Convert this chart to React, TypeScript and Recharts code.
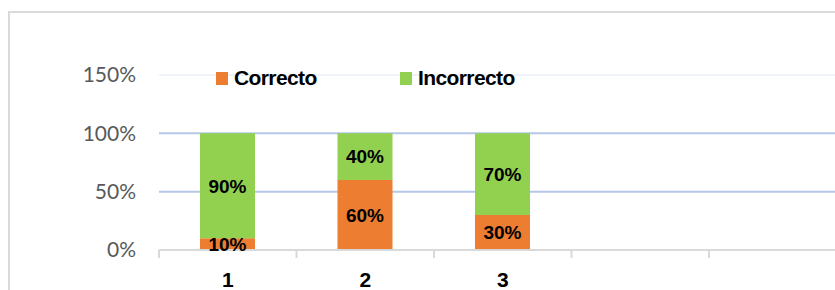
import React from "react";
import {
  BarChart,
  Bar,
  XAxis,
  YAxis,
  CartesianGrid,
  ReferenceLine,
  LabelList,
  Legend,
} from "recharts";

const categories = ["1", "2", "3", "", ""];
const correcto = [0.1, 0.6, 0.3, null, null];
const incorrecto = [0.9, 0.4, 0.7, null, null];
const yTicks = [0, 0.5, 1, 1.5];

const SERIES = [
  { key: "correcto", name: "Correcto", color: "#ED7D31" },
  { key: "incorrecto", name: "Incorrecto", color: "#92D050" },
];

const data = categories.map((name, i) => ({
  name,
  correcto: correcto[i],
  incorrecto: incorrecto[i],
}));

const pct = (v: any) =>
  v === null || v === undefined ? "" : `${Math.round(Number(v) * 100)}%`;

const XTick = (props: any) => {
  const { x, y, payload, index, visibleTicksCount } = props;
  const half = payload && payload.offset ? payload.offset : 68.75;
  const isLast = index === visibleTicksCount - 1;
  return (
    <g>
      <line x1={x - half} x2={x - half} y1={y} y2={y + 8} stroke="#d9d9d9" strokeWidth={2} />
      {isLast && (
        <line x1={x + half} x2={x + half} y1={y} y2={y + 8} stroke="#d9d9d9" strokeWidth={2} />
      )}
      <text
        x={x}
        y={y + 37}
        textAnchor="middle"
        fontFamily="'Liberation Sans', Arial, sans-serif"
        fontWeight="bold"
        fontSize={21}
        fill="#000"
      >
        {payload.value}
      </text>
    </g>
  );
};

const renderLegend = () => (
  <div
    style={{
      display: "flex",
      fontFamily: "'Liberation Sans', Arial, sans-serif",
      fontWeight: "bold",
      fontSize: 21,
      color: "#000",
      letterSpacing: -0.6,
    }}
  >
    {SERIES.map((s) => (
      <div
        key={s.key}
        style={{ display: "flex", alignItems: "center", width: 184 }}
      >
        <span
          style={{
            display: "inline-block",
            width: 12,
            height: 13,
            background: s.color,
            marginRight: 6,
          }}
        />
        <span>{s.name}</span>
      </div>
    ))}
  </div>
);

export default function App() {
  return (
    <div
      style={{
        position: "absolute",
        left: 0,
        top: 0,
        width: 835,
        height: 290,
        overflow: "hidden",
        background: "#fff",
      }}
    >
      <div
        style={{
          position: "absolute",
          left: 8,
          top: 11,
          width: 900,
          height: 400,
          border: "2px solid #d9d9d9",
          boxSizing: "border-box",
        }}
      />
      <div style={{ position: "absolute", left: 0, top: 0 }}>
        <BarChart
          width={850}
          height={290}
          data={data}
          margin={{ top: 75, right: 3.5, bottom: 0, left: 0 }}
        >
          <CartesianGrid
            vertical={false}
            horizontalValues={[0.5, 1]}
            stroke="#b4c7e7"
            strokeWidth={2}
          />
          <ReferenceLine y={1.5} stroke="#eef2f9" strokeWidth={2} />
          <XAxis
            dataKey="name"
            type="category"
            height={40}
            axisLine={{ stroke: "#d9d9d9", strokeWidth: 2 }}
            tickLine={false}
            tickSize={0}
            tickMargin={0}
            interval={0}
            tick={<XTick />}
          />
          <YAxis
            width={159}
            domain={[0, 1.5]}
            ticks={yTicks}
            tickFormatter={pct}
            axisLine={false}
            tickLine={false}
            tickSize={0}
            tickMargin={23}
            tick={{
              fill: "#595959",
              fontSize: 21,
              fontFamily: "Lato, 'Liberation Sans', sans-serif",
            }}
          />
          <Legend
            layout="horizontal"
            verticalAlign="middle"
            align="center"
            content={renderLegend}
            wrapperStyle={{ position: "absolute", left: 216, top: 66, width: 400 }}
          />
          {SERIES.map((s) => (
            <Bar
              key={s.key}
              dataKey={s.key}
              name={s.name}
              stackId="a"
              fill={s.color}
              barSize={55}
              isAnimationActive={false}
            >
              <LabelList
                dataKey={s.key}
                position="center"
                formatter={pct}
                fill="#000"
                fontSize={19}
                fontWeight="bold"
                fontFamily="'Liberation Sans', Arial, sans-serif"
              />
            </Bar>
          ))}
        </BarChart>
      </div>
    </div>
  );
}
